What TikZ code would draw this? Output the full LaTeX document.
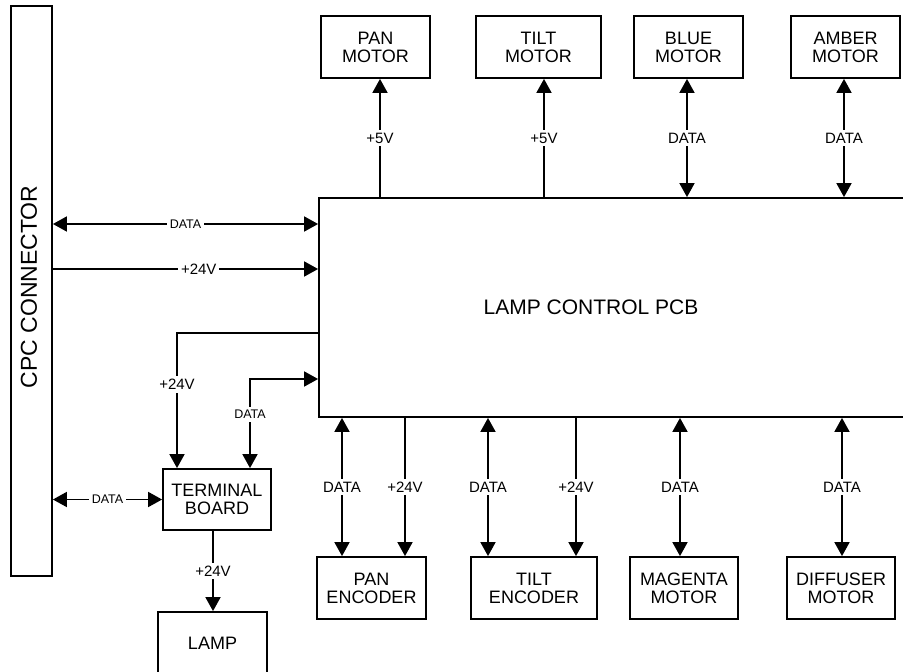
\documentclass[tikz,border=0pt]{standalone}
\usepackage{fontspec}
\setmainfont{Liberation Sans}
\usetikzlibrary{arrows.meta}
\tikzset{
	blk/.style={draw, line width=1.8pt, align=center, inner sep=0pt, font=\fontsize{18}{18}\selectfont},
	lbl/.style={fill=white, inner sep=3pt, font=\fontsize{15}{15}\selectfont},
	slbl/.style={fill=white, inner sep=3pt, font=\fontsize{12.5}{12.5}\selectfont},
	onearr/.style={line width=1.8pt, -{Triangle[length=14pt,width=15pt]}},
	twoarr/.style={line width=1.8pt, {Triangle[length=14pt,width=15pt]}-{Triangle[length=14pt,width=15pt]}},
}
\begin{document}
\begin{tikzpicture}[x=1pt, y=-1pt]
	\clip (0,0) rectangle (903,672);
	\node[blk, minimum width=41pt, minimum height=570pt] (cpc) at (31.5,291) {};
	\node[rotate=90, font=\fontsize{23}{23}\selectfont] (cpctext) at (29,287) {CPC CONNECTOR};
	\node[blk, minimum width=593pt, minimum height=219pt] (pcb) at (615.5,307.5) {};
	\node[font=\fontsize{21}{21}\selectfont] (pcbtext) at (591,307) {LAMP CONTROL PCB};
	\node[blk, minimum width=109pt, minimum height=62pt] (panm) at (375.5,47) {PAN\\MOTOR};
	\node[blk, minimum width=125pt, minimum height=62pt] (tiltm) at (538.5,47) {TILT\\MOTOR};
	\node[blk, minimum width=109pt, minimum height=62pt] (bluem) at (688.5,47) {BLUE\\MOTOR};
	\node[blk, minimum width=109pt, minimum height=62pt] (amberm) at (845.5,47) {AMBER\\MOTOR};
	\node[blk, minimum width=108pt, minimum height=61pt] (term) at (217,499.5) {TERMINAL\\BOARD};
	\node[blk, minimum width=109pt, minimum height=62pt] (lamp) at (212.5,643) {LAMP};
	\node[blk, minimum width=109pt, minimum height=62pt] (panenc) at (371.5,588) {PAN\\ENCODER};
	\node[blk, minimum width=126pt, minimum height=62pt] (tiltenc) at (534,588) {TILT\\ENCODER};
	\node[blk, minimum width=108pt, minimum height=62pt] (magm) at (684,588) {MAGENTA\\MOTOR};
	\node[blk, minimum width=108pt, minimum height=62pt] (diffm) at (841,588) {DIFFUSER\\MOTOR};
	\draw[onearr] (pcb.north -| 380,0) -- node[lbl] {+5V} (panm.south -| 380,0);
	\draw[onearr] (pcb.north -| 544,0) -- node[lbl] {+5V} (tiltm.south -| 544,0);
	\draw[twoarr] (pcb.north -| 687,0) -- node[lbl] {DATA} (bluem.south -| 687,0);
	\draw[twoarr] (pcb.north -| 844,0) -- node[lbl] {DATA} (amberm.south -| 844,0);
	\draw[twoarr] (cpc.east |- 0,224) -- node[slbl] {DATA} (pcb.west |- 0,224);
	\draw[onearr] (cpc.east |- 0,269) -- node[lbl, pos=0.55] {+24V} (pcb.west |- 0,269);
	\draw[onearr] (pcb.west |- 0,333) -| node[lbl, pos=0.69] {+24V} (term.north -| 177,0);
	\draw[twoarr] (pcb.west |- 0,379) -| node[slbl, pos=0.7] {DATA} (term.north -| 250,0);
	\draw[twoarr] (cpc.east |- term.west) -- node[slbl] {DATA} (term.west);
	\draw[onearr] (term.south -| 213,0) -- node[lbl] {+24V} (lamp.north -| 213,0);
	\draw[twoarr] (pcb.south -| 342,0) -- node[lbl] {DATA} (panenc.north -| 342,0);
	\draw[onearr] (pcb.south -| 405,0) -- node[lbl] {+24V} (panenc.north -| 405,0);
	\draw[twoarr] (pcb.south -| 488,0) -- node[lbl] {DATA} (tiltenc.north -| 488,0);
	\draw[onearr] (pcb.south -| 576,0) -- node[lbl] {+24V} (tiltenc.north -| 576,0);
	\draw[twoarr] (pcb.south -| 680,0) -- node[lbl] {DATA} (magm.north -| 680,0);
	\draw[twoarr] (pcb.south -| 842,0) -- node[lbl] {DATA} (diffm.north -| 842,0);
\end{tikzpicture}
\end{document}
